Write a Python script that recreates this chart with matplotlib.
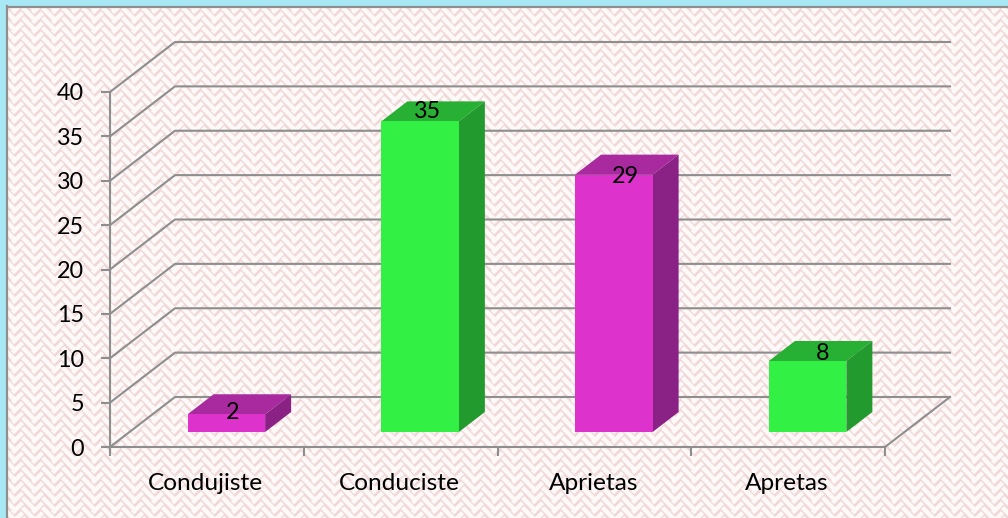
import numpy as np
import matplotlib
matplotlib.use("Agg")
import matplotlib.pyplot as plt
from matplotlib.patches import Polygon, Rectangle

categorias = ["Condujiste", "Conduciste", "Aprietas", "Apretas"]
valores = [2, 35, 29, 8]
ticks_y = [0, 5, 10, 15, 20, 25, 30, 35, 40]

plt.rcParams["font.family"] = ["Lato", "DejaVu Sans"]

W, H = 1008, 518
fig = plt.figure(figsize=(W / 100, H / 100), dpi=100)

# fondo con trama, calculada a 4x y promediada para suavizar bordes
fondo = fig.add_axes([0, 0, 1, 1])
ss = 4
yy, xx = np.mgrid[0:H * ss, 0:W * ss] / ss
u = (xx + yy) / 10.0
v = (xx - yy) / 10.0
a = np.floor(u).astype(int)
b = np.floor(v).astype(int)
k = (a + b) % 4
fu, fv = u - a, v - b
media = 0.31
blanco = np.where(k < 2, np.abs(fv - 0.5) < media, np.abs(fu - 0.5) < media)
# esquina que une los dos brazos de cada V
blanco = blanco | ((k == 2) & (np.abs(fv - 0.5) < media) & (fu < 0.5 + media))
blanco = blanco.astype(float).reshape(H, ss, W, ss).mean(axis=(1, 3))
rosa = np.array([240, 216, 216]) / 255
papel = np.array([0.995, 0.98, 0.98])
img = blanco[..., None] * papel + (1 - blanco[..., None]) * rosa
fondo.imshow(img, interpolation="bilinear", extent=(0, W, H, 0), aspect="auto")
fondo.add_patch(Rectangle((0, 0), W, 6, color="#a8e8f5", lw=0))
fondo.add_patch(Rectangle((0, 0), 6, H, color="#a8e8f5", lw=0))
fondo.plot([7, W], [6.5, 6.5], color="#8f8f8f", lw=1.6)
fondo.plot([7, 7], [6, H], color="#8f8f8f", lw=1.6)
fondo.set_xlim(0, W)
fondo.set_ylim(H, 0)
fondo.axis("off")

# ejes del grafico: x en categorias, y en valores
ax = fig.add_axes([110 / W, 1 - 447 / H, 775 / W, 355 / H])
ax.set_xlim(0, 4)
ax.set_ylim(0, 40)
ax.patch.set_alpha(0)

prof_x = 65 / 193.75
prof_y = 50 / 8.875
gris = "#8e8e8e"

for t in ticks_y:
    ax.plot([0, prof_x, 4 + prof_x], [t, t + prof_y, t + prof_y], color=gris, lw=1.5,
            clip_on=False, zorder=1, solid_joinstyle="round")
ax.plot([4, 4 + prof_x], [0, prof_y], color=gris, lw=1.5, clip_on=False, zorder=1)

for s in ["top", "right"]:
    ax.spines[s].set_visible(False)
for s in ["left", "bottom"]:
    ax.spines[s].set_color(gris)
    ax.spines[s].set_linewidth(1.5)
ax.set_yticks(ticks_y)
ax.set_xticks(range(5))
ax.set_xticklabels([])
ax.tick_params(axis="both", color=gris, width=1.5, length=6.5)
ax.tick_params(axis="y", labelsize=16.8, pad=12, labelcolor="black")

colores = [("#dd33cc", "#a82a9e", "#8a2285"), ("#33f044", "#28b035", "#229a2e")]
ajustes = [(6, 2), (7, 10), (12, -2), (15, 7)]
ancho = 0.4
f1, f2 = 0.3, 0.7

for i, val in enumerate(valores):
    frente, arriba, lado = colores[i % 2]
    x0 = i + 0.5 + 0.5 * prof_x - ancho / 2 - (f2 - f1) / 2 * prof_x
    x1 = x0 + ancho
    base = f1 * prof_y
    tope = base + val
    dx = (f2 - f1) * prof_x
    dy = (f2 - f1) * prof_y
    ax.add_patch(Polygon([(x0, tope), (x1, tope), (x1 + dx, tope + dy), (x0 + dx, tope + dy)],
                         fc=arriba, ec="none", clip_on=False, zorder=3))
    ax.add_patch(Polygon([(x1, base), (x1 + dx, base + dy), (x1 + dx, tope + dy), (x1, tope)],
                         fc=lado, ec="none", clip_on=False, zorder=3))
    ax.bar(x0 + ancho / 2, val, ancho, bottom=base, color=frente, zorder=4, clip_on=False)
    ax.annotate(str(val), (x0 + ancho / 2, tope), xytext=ajustes[i], textcoords="offset pixels",
                ha="center", va="center", fontsize=16.8, color="black", zorder=5,
                annotation_clip=False)

for i, cat in enumerate(categorias):
    ax.annotate(cat, (i + 0.5, 0), xytext=(-1, -36), textcoords="offset pixels", ha="center",
                va="center", fontsize=17.6, color="black", annotation_clip=False)

fig.savefig("out.png", dpi=100)
